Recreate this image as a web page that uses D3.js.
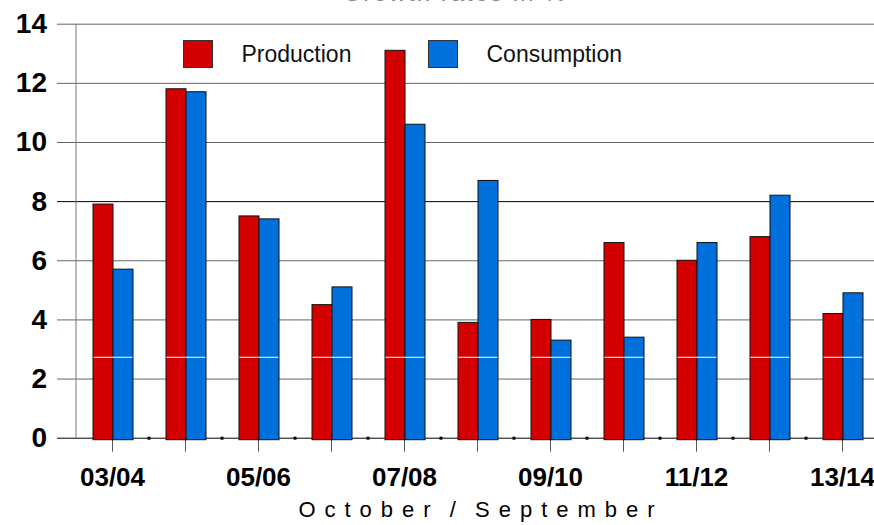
<!DOCTYPE html>
<html>
<head>
<meta charset="utf-8">
<script src="https://cdn.jsdelivr.net/npm/d3@7"></script>
<style>
  body { margin: 0; background: #fff; }
  svg { display: block; font-family: "Liberation Sans", Arial, sans-serif; }
</style>
</head>
<body>
<div id="vis"></div>
<script>
// seasons, October / September
const seasons = ["03/04", "04/05", "05/06", "06/07", "07/08", "08/09", "09/10", "10/11", "11/12", "12/13", "13/14"];
// growth rates in %
const production = [7.9, 11.8, 7.5, 4.5, 13.1, 3.9, 4.0, 6.6, 6.0, 6.8, 4.2];
const consumption = [5.7, 11.7, 7.4, 5.1, 10.6, 8.7, 3.3, 3.4, 6.6, 8.2, 4.9];
const yTicks = [0, 2, 4, 6, 8, 10, 12, 14];
const seriesNames = ["Production", "Consumption"];

const width = 874, height = 525;
const red = "#d40000", blue = "#0070dd";

const svg = d3.select("#vis").append("svg")
    .attr("width", width)
    .attr("height", height);

const x = d3.scaleBand().domain(seasons).range([76, 879]);
const y = d3.scaleLinear().domain([0, 14]).range([437.7, 23.7]);
const barW = 20;

// title, mostly cut off by the top edge
svg.append("text")
    .attr("x", 455).attr("y", 1)
    .attr("text-anchor", "middle")
    .attr("font-size", 24)
    .attr("letter-spacing", 2)
    .attr("fill", "#888")
    .text("Growth rates in %");

// y axis + gridlines
const yAxis = svg.append("g")
    .attr("transform", "translate(57,0)")
    .call(d3.axisLeft(y).tickValues(yTicks).tickSize(-(width - 57)).tickPadding(10));
yAxis.select(".domain").remove();
yAxis.selectAll(".tick line")
    .attr("stroke", d => d === 8 || d === 0 ? "#000" : "#666");
yAxis.selectAll(".tick text")
    .attr("font-size", 28)
    .attr("font-weight", "bold")
    .attr("fill", "#000")
    .attr("font-family", "Liberation Sans, Arial, sans-serif");

// vertical axis line
svg.append("line")
    .attr("x1", 76).attr("x2", 76)
    .attr("y1", y(14)).attr("y2", y(0))
    .attr("stroke", "#777");

// x axis
const xAxis = svg.append("g")
    .attr("transform", `translate(0,${y(0)})`)
    .call(d3.axisBottom(x).tickSize(14).tickPadding(16)
        .tickFormat((d, i) => i % 2 === 0 ? d : ""));
xAxis.select(".domain").remove();
xAxis.selectAll(".tick line").attr("stroke", "#555");
xAxis.selectAll(".tick text")
    .attr("font-size", 26)
    .attr("font-weight", "bold")
    .attr("fill", "#000")
    .attr("font-family", "Liberation Sans, Arial, sans-serif");

// little squares between groups
svg.append("g").selectAll("rect")
    .data(seasons.slice(1))
    .join("rect")
    .attr("x", d => x(d) - 1.5)
    .attr("y", y(0) - 1)
    .attr("width", 3).attr("height", 3)
    .attr("fill", "#000");

// bars
const groups = svg.append("g").selectAll("g")
    .data(seasons)
    .join("g")
    .attr("transform", d => `translate(${x(d) + x.bandwidth() / 2},0)`);

groups.append("rect")
    .attr("x", -barW + 0.5)
    .attr("y", (d, i) => y(production[i]))
    .attr("width", barW)
    .attr("height", (d, i) => y(0) + 2 - y(production[i]))
    .attr("fill", red)
    .attr("stroke", "#111");

groups.append("rect")
    .attr("x", 0.5)
    .attr("y", (d, i) => y(consumption[i]))
    .attr("width", barW)
    .attr("height", (d, i) => y(0) + 2 - y(consumption[i]))
    .attr("fill", blue)
    .attr("stroke", "#111");

// thin white streak across the bars
groups.append("line")
    .attr("x1", -barW + 1).attr("x2", barW)
    .attr("y1", y(2.72)).attr("y2", y(2.72))
    .attr("stroke", "#fff");

// legend
const legend = svg.append("g");
const legendX = [183.5, 428.5];
seriesNames.forEach((name, i) => {
    legend.append("rect")
        .attr("x", legendX[i]).attr("y", 40.5)
        .attr("width", 29).attr("height", 27)
        .attr("fill", i === 0 ? red : blue)
        .attr("stroke", "#333");
    legend.append("text")
        .attr("x", legendX[i] + 58).attr("y", 62)
        .attr("font-size", 23)
        .attr("fill", "#111")
        .text(name);
});

// x axis title
svg.append("text")
    .attr("x", 481).attr("y", 517)
    .attr("text-anchor", "middle")
    .attr("font-size", 22)
    .attr("letter-spacing", 9)
    .attr("word-spacing", -5)
    .attr("fill", "#000")
    .text("October / September");
</script>
</body>
</html>
